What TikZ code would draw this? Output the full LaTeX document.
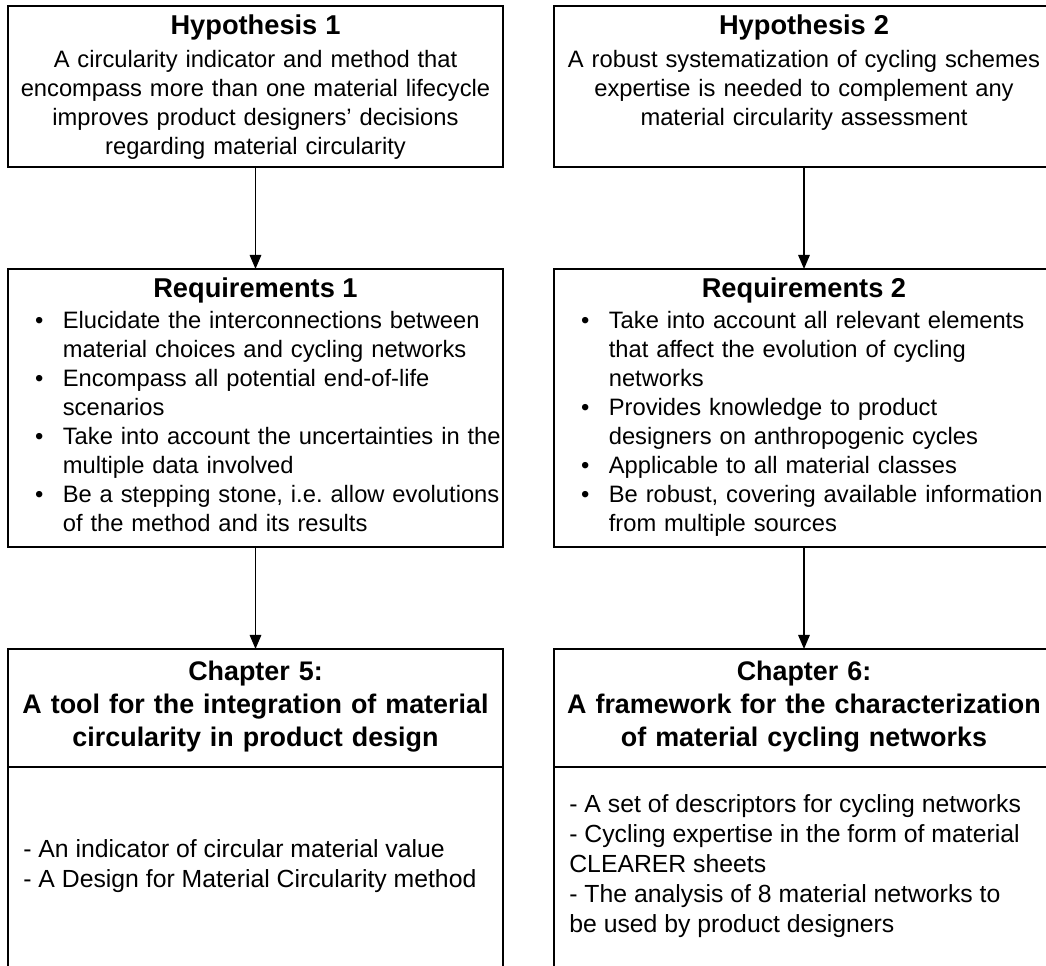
\documentclass[tikz,border=0pt]{standalone}
\usepackage{fontspec}
\setmainfont{Liberation Sans}
\usepackage{tikz}
\usetikzlibrary{arrows.meta}

\newcommand{\bodyfont}{\fontsize{13.5}{16.56}\selectfont}
\newcommand{\headfont}{\fontsize{15.5}{16.56}\selectfont\bfseries}
\newcommand{\chapfont}{\fontsize{15.3}{19}\selectfont\bfseries}
\newcommand{\outfont}{\fontsize{14.1}{17}\selectfont}
\newcommand{\bitem}{\hangindent=1.09cm\hangafter=1%
  \makebox[1.09cm][l]{\hspace{0.535cm}\textbullet}}

\begin{document}
\begin{tikzpicture}[
    box/.style={draw, line width=1.1pt, minimum width=9.9cm, inner sep=0pt, outer sep=0pt, anchor=north},
    wide/.style={minimum width=10cm},
    txt/.style={inner sep=0pt, text width=#1, font=\bodyfont},
    arrow/.style={line width=1pt, -{Triangle[length=8pt, width=6.5pt]}}
  ]
        \clip (0,0) rectangle (20.92,-19.3);

        % Hypotheses
        \node[box, minimum height=3.22cm] (h1) at (5.11,-0.12) {};
        \node[box, wide, minimum height=3.22cm] (h2) at (16.08,-0.12) {};
        \node[txt=9.9cm, align=center, anchor=base] (h1t) at ([yshift=-0.56cm]h1.north)
            {{\headfont Hypothesis 1}\\[2.3pt]
             A circularity indicator and method that\\
             encompass more than one material lifecycle\\
             improves product designers’ decisions\\
             regarding material circularity};
        \node[txt=10cm, align=center, anchor=base] (h2t) at ([yshift=-0.56cm]h2.north)
            {{\headfont Hypothesis 2}\\[2.3pt]
             A robust systematization of cycling schemes\\
             expertise is needed to complement any\\
             material circularity assessment};

        % Requirements
        \node[box, minimum height=5.56cm] (r1) at (5.11,-5.38) {};
        \node[box, wide, minimum height=5.56cm] (r2) at (16.08,-5.38) {};
        \node[inner sep=0pt, font=\headfont, anchor=base] (r1h) at ([yshift=-0.56cm]r1.north) {Requirements 1};
        \node[inner sep=0pt, font=\headfont, anchor=base] (r2h) at ([yshift=-0.56cm]r2.north) {Requirements 2};
        \node[txt=10.5cm, align=left, anchor=base west] (r1t) at ([yshift=-1.18cm]r1.north west)
            {\bitem Elucidate the interconnections between\newline material choices and cycling networks\par
             \bitem Encompass all potential end-of-life\newline scenarios\par
             \bitem Take into account the uncertainties in the\newline multiple data involved\par
             \bitem Be a stepping stone, i.e.\ allow evolutions\newline of the method and its results\par};
        \node[txt=10.5cm, align=left, anchor=base west] (r2t) at ([yshift=-1.18cm]r2.north west)
            {\bitem Take into account all relevant elements\newline that affect the evolution of cycling\newline networks\par
             \bitem Provides knowledge to product\newline designers on anthropogenic cycles\par
             \bitem Applicable to all material classes\par
             \bitem Be robust, covering available information\newline from multiple sources\par};

        % Chapters
        \node[box, minimum height=2.36cm] (c5) at (5.11,-12.98) {};
        \node[box, minimum height=4.7cm] (c5b) at (c5.south) {};
        \node[box, wide, minimum height=2.36cm] (c6) at (16.08,-12.98) {};
        \node[box, wide, minimum height=4.7cm] (c6b) at (c6.south) {};
        \node[txt=9.9cm, align=center, anchor=base, font=\chapfont] (c5t) at ([yshift=-0.62cm]c5.north)
            {Chapter 5:\\ A tool for the integration of material\\ circularity in product design};
        \node[txt=10cm, align=center, anchor=base, font=\chapfont] (c6t) at ([yshift=-0.62cm]c6.north)
            {Chapter 6:\\ A framework for the characterization\\ of material cycling networks};
        \node[inner sep=0pt, align=left, font=\outfont, anchor=west] (c5o)
            at ([xshift=0.3cm, yshift=-1.98cm]c5b.north west)
            {- An indicator of circular material value\\
             - A Design for Material Circularity method};
        \node[inner sep=0pt, align=left, font=\outfont, anchor=west] (c6o)
            at ([xshift=0.3cm, yshift=-1.98cm]c6b.north west)
            {- A set of descriptors for cycling networks\\
             - Cycling expertise in the form of material\\
             CLEARER sheets\\
             - The analysis of 8 material networks to\\
             be used by product designers};

        % Arrows
        \draw[arrow] (h1) -- (r1);
        \draw[arrow] (h2) -- (r2);
        \draw[arrow] (r1) -- (c5);
        \draw[arrow] (r2) -- (c6);
    \end{tikzpicture}
\end{document}
